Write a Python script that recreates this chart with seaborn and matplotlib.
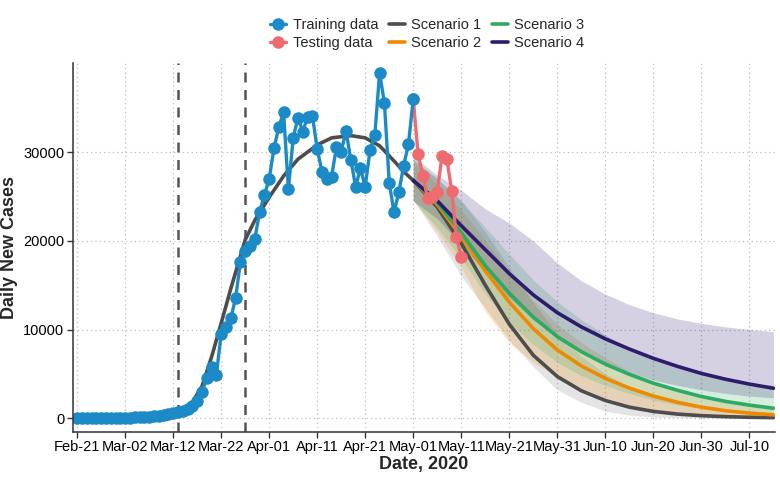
import numpy as np
import pandas as pd
import matplotlib
matplotlib.use("Agg")
import matplotlib.pyplot as plt
import matplotlib.dates as mdates
from matplotlib.lines import Line2D
import seaborn as sns

# Data (days counted from 2020-02-21)
START = pd.Timestamp("2020-02-21")

train_days = list(range(0, 71))
train_cases = [0, 5, 3, 10, 8, 15, 20, 25, 30, 40,
               55, 70, 90, 115, 150, 190, 240, 300, 380, 470,
               580, 700, 850, 1050, 1400, 1900, 3000, 4500, 5800, 4880,
               9500, 10300, 11270, 13500, 17580, 18850, 19450, 20200, 23200, 25170,
               26970, 30430, 32800, 34490, 25800, 31620, 33880, 32300, 33990, 34100,
               30350, 27790, 26970, 27230, 30540, 30050, 32410, 29110, 26100, 28170,
               26100, 30240, 31930, 38950, 35500, 26550, 23210, 25470, 28470, 30880,
               35990]

test_days = list(range(70, 81))
test_cases = [35990, 29790, 27340, 24790, 24900, 25540, 29600, 29230, 25620, 20400, 18220]

# fitted curve before the projection
fit_days = [21, 24, 26, 28, 30, 32, 35, 37, 40, 43, 46, 50, 53, 57, 60, 63, 66, 68, 70]
fit_cases = [600, 1800, 3600, 6900, 10700, 14600, 20100, 22300, 24900, 27300,
             29200, 30800, 31600, 31850, 31600, 30700, 29000, 27800, 26800]

proj_days = [70, 75, 80, 85, 90, 95, 100, 105, 110, 115, 120, 125, 130, 135, 140, 145]

s1_mid = [26800, 23800, 19700, 15000, 10600, 7100, 4700, 3100, 2000, 1250, 770, 470, 290, 180, 110, 70]
s1_lo = [24600, 20500, 16000, 12400, 8800, 5800, 3200, 1800, 800, 350, 150, 80, 50, 30, 20, 10]
s1_hi = [29000, 27000, 24500, 21000, 17000, 13000, 9500, 7000, 5000, 3500, 2500, 1800, 1300, 1000, 800, 600]

s2_mid = [26800, 24100, 20500, 16600, 13100, 10100, 7700, 5900, 4500, 3400, 2500, 1800, 1250, 850, 580, 380]
s2_lo = [24600, 21000, 17000, 12000, 8500, 6300, 4700, 3400, 2300, 1500, 950, 600, 380, 250, 160, 100]
s2_hi = [29000, 26300, 23500, 20000, 16500, 13300, 10600, 8500, 6800, 5300, 4100, 3100, 2400, 1900, 1550, 1300]

s3_mid = [26800, 24300, 20900, 17200, 14100, 11400, 9200, 7500, 6100, 4950, 3950, 3150, 2450, 1900, 1480, 1130]
s3_lo = [24500, 21500, 18000, 14000, 10800, 8300, 6300, 4800, 3700, 2800, 2050, 1500, 1100, 800, 620, 500]
s3_hi = [29200, 27000, 24500, 21500, 18500, 15600, 13100, 11100, 9400, 7900, 6700, 5700, 4900, 4400, 4000, 3700]

s4_mid = [26800, 24500, 21700, 19000, 16300, 13900, 11900, 10300, 8950, 7800, 6750, 5850, 5050, 4400, 3850, 3380]
s4_lo = [24500, 22500, 19500, 16500, 13600, 11100, 9100, 7600, 6300, 5200, 4300, 3700, 3200, 2800, 2500, 2300]
s4_hi = [29500, 27400, 25700, 23600, 22000, 20000, 17500, 15500, 14000, 12800, 11900, 11200, 10700, 10300, 10000, 9760]

cutoff_days = [21, 35]
tick_days = list(range(0, 141, 10))

C_TRAIN = "#1B8AC6"
C_TEST = "#EE6B70"
C_S1 = "#4D4D4D"
C_S2 = "#EE8A00"
C_S3 = "#2FAA63"
C_S4 = "#2D1B6E"


def to_date(days):
    return START + pd.to_timedelta(days, unit="D")


sns.set_theme(style="ticks")
plt.rcParams["font.family"] = ["Liberation Sans", "DejaVu Sans"]

fig, ax = plt.subplots(figsize=(7.8, 4.8), dpi=100)
fig.subplots_adjust(left=0.093, right=0.994, top=0.869, bottom=0.1)

ax.grid(True, linestyle=(0, (1, 2.5)), color="#BDBDBD", linewidth=0.9)
ax.set_axisbelow(True)

proj_dates = to_date(proj_days)
scenarios = [
    ("Scenario 1", C_S1, s1_mid, s1_lo, s1_hi, 0.15),
    ("Scenario 2", C_S2, s2_mid, s2_lo, s2_hi, 0.2),
    ("Scenario 3", C_S3, s3_mid, s3_lo, s3_hi, 0.2),
    ("Scenario 4", C_S4, s4_mid, s4_lo, s4_hi, 0.2),
]
for name, col, mid, lo, hi, a in scenarios:
    ax.fill_between(proj_dates, lo, hi, color=col, alpha=a, linewidth=0)

for d in cutoff_days:
    ax.axvline(to_date(d), color="#555555", linestyle=(0, (4, 3)), linewidth=1.8)

sns.lineplot(x=to_date(fit_days), y=fit_cases, color=C_S1, linewidth=2.6, ax=ax)
for name, col, mid, lo, hi, a in scenarios:
    sns.lineplot(x=proj_dates, y=mid, color=col, linewidth=2.6, ax=ax)

sns.lineplot(x=to_date(test_days), y=test_cases, color=C_TEST, linewidth=2.4,
             marker="o", markersize=9, markeredgewidth=0, ax=ax)
sns.lineplot(x=to_date(train_days), y=train_cases, color=C_TRAIN, linewidth=2.4,
             marker="o", markersize=9, markeredgewidth=0, ax=ax)

ax.set_xlim(to_date(-0.95), to_date(145.4))
ax.set_ylim(-1550, 40050)
ax.set_xticks(to_date(tick_days))
ax.xaxis.set_major_formatter(mdates.DateFormatter("%b-%d"))
ax.set_yticks([0, 10000, 20000, 30000])
ax.set_yticklabels(["0", "10000", "20000", "30000"])
ax.tick_params(axis="both", labelsize=10.5, colors="#333333", labelcolor="black",
               length=4, width=1, pad=2)

ax.set_xlabel("Date, 2020", fontsize=13, fontweight="bold", labelpad=1)
ax.set_ylabel("Daily New Cases", fontsize=13, fontweight="bold", labelpad=4)

sns.despine(ax=ax)
for side in ["left", "bottom"]:
    ax.spines[side].set_color("#333333")
    ax.spines[side].set_linewidth(1.1)

handles = [
    Line2D([], [], color=C_TRAIN, marker="o", markersize=9, markeredgewidth=0, linewidth=2.4),
    Line2D([], [], color=C_TEST, marker="o", markersize=9, markeredgewidth=0, linewidth=2.4),
    Line2D([], [], color=C_S1, linewidth=2.6),
    Line2D([], [], color=C_S2, linewidth=2.6),
    Line2D([], [], color=C_S3, linewidth=2.6),
    Line2D([], [], color=C_S4, linewidth=2.6),
]
labels = ["Training data", "Testing data", "Scenario 1", "Scenario 2", "Scenario 3", "Scenario 4"]
fig.legend(handles, labels, loc="upper center", bbox_to_anchor=(0.548, 0.993), ncol=3,
           frameon=False, fontsize=10.5, handlelength=1.1, handletextpad=0.45,
           columnspacing=0.7, labelspacing=0.3, borderaxespad=0.6)

fig.savefig("out.png", dpi=100)
